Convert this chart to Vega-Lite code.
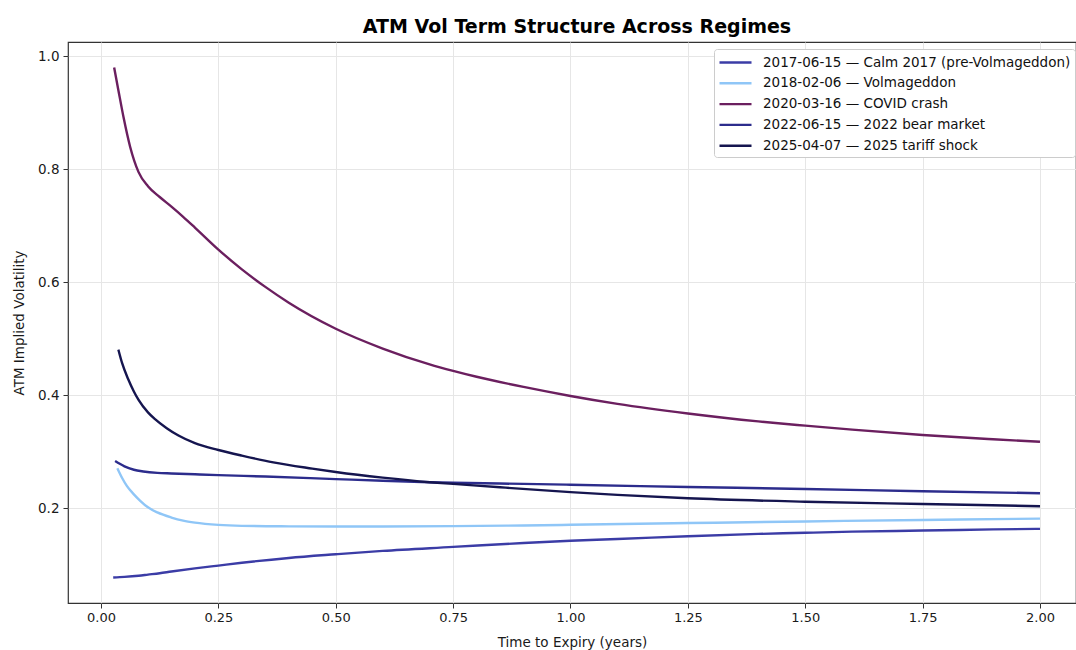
{
  "$schema": "https://vega.github.io/schema/vega-lite/v6.json",
  "width": 1008,
  "height": 561,
  "autosize": "none",
  "padding": {"left": 68, "top": 42, "right": 0, "bottom": 47},
  "background": "white",
  "config": {
    "font": "DejaVu Sans",
    "view": {"stroke": "#333333", "strokeWidth": 1.2},
    "axis": {
      "labelFont": "DejaVu Sans", "titleFont": "DejaVu Sans",
      "labelFontSize": 13.5, "titleFontSize": 13.5, "titleFontWeight": "normal",
      "labelColor": "#1a1a1a", "titleColor": "#1a1a1a",
      "tickColor": "#333333", "tickSize": 5, "tickWidth": 1,
      "domain": false,
      "gridColor": "#e6e6e6", "gridWidth": 1
    }
  },
  "title": {
    "text": "ATM Vol Term Structure Across Regimes",
    "font": "DejaVu Sans", "fontSize": 19, "fontWeight": "bold", "color": "#000000",
    "anchor": "middle", "offset": 5, "dx": 5
  },
  "data": {
    "values": [
      {"series": "2017-06-15 — Calm 2017 (pre-Volmageddon)", "t": 0.026, "v": 0.078},
      {"series": "2017-06-15 — Calm 2017 (pre-Volmageddon)", "t": 0.05, "v": 0.079},
      {"series": "2017-06-15 — Calm 2017 (pre-Volmageddon)", "t": 0.08, "v": 0.081},
      {"series": "2017-06-15 — Calm 2017 (pre-Volmageddon)", "t": 0.1, "v": 0.083},
      {"series": "2017-06-15 — Calm 2017 (pre-Volmageddon)", "t": 0.125, "v": 0.0855},
      {"series": "2017-06-15 — Calm 2017 (pre-Volmageddon)", "t": 0.15, "v": 0.0885},
      {"series": "2017-06-15 — Calm 2017 (pre-Volmageddon)", "t": 0.2, "v": 0.094},
      {"series": "2017-06-15 — Calm 2017 (pre-Volmageddon)", "t": 0.25, "v": 0.099},
      {"series": "2017-06-15 — Calm 2017 (pre-Volmageddon)", "t": 0.3, "v": 0.104},
      {"series": "2017-06-15 — Calm 2017 (pre-Volmageddon)", "t": 0.4, "v": 0.1125},
      {"series": "2017-06-15 — Calm 2017 (pre-Volmageddon)", "t": 0.5, "v": 0.119},
      {"series": "2017-06-15 — Calm 2017 (pre-Volmageddon)", "t": 0.6, "v": 0.125},
      {"series": "2017-06-15 — Calm 2017 (pre-Volmageddon)", "t": 0.75, "v": 0.132},
      {"series": "2017-06-15 — Calm 2017 (pre-Volmageddon)", "t": 0.9, "v": 0.139},
      {"series": "2017-06-15 — Calm 2017 (pre-Volmageddon)", "t": 1.0, "v": 0.143},
      {"series": "2017-06-15 — Calm 2017 (pre-Volmageddon)", "t": 1.1, "v": 0.146},
      {"series": "2017-06-15 — Calm 2017 (pre-Volmageddon)", "t": 1.25, "v": 0.151},
      {"series": "2017-06-15 — Calm 2017 (pre-Volmageddon)", "t": 1.4, "v": 0.155},
      {"series": "2017-06-15 — Calm 2017 (pre-Volmageddon)", "t": 1.5, "v": 0.157},
      {"series": "2017-06-15 — Calm 2017 (pre-Volmageddon)", "t": 1.6, "v": 0.159},
      {"series": "2017-06-15 — Calm 2017 (pre-Volmageddon)", "t": 1.75, "v": 0.161},
      {"series": "2017-06-15 — Calm 2017 (pre-Volmageddon)", "t": 1.9, "v": 0.163},
      {"series": "2017-06-15 — Calm 2017 (pre-Volmageddon)", "t": 2.0, "v": 0.164},

      {"series": "2018-02-06 — Volmageddon", "t": 0.035, "v": 0.271},
      {"series": "2018-02-06 — Volmageddon", "t": 0.045, "v": 0.254},
      {"series": "2018-02-06 — Volmageddon", "t": 0.055, "v": 0.240},
      {"series": "2018-02-06 — Volmageddon", "t": 0.07, "v": 0.225},
      {"series": "2018-02-06 — Volmageddon", "t": 0.083, "v": 0.214},
      {"series": "2018-02-06 — Volmageddon", "t": 0.1, "v": 0.202},
      {"series": "2018-02-06 — Volmageddon", "t": 0.12, "v": 0.193},
      {"series": "2018-02-06 — Volmageddon", "t": 0.15, "v": 0.184},
      {"series": "2018-02-06 — Volmageddon", "t": 0.175, "v": 0.1785},
      {"series": "2018-02-06 — Volmageddon", "t": 0.2, "v": 0.175},
      {"series": "2018-02-06 — Volmageddon", "t": 0.25, "v": 0.171},
      {"series": "2018-02-06 — Volmageddon", "t": 0.3, "v": 0.1693},
      {"series": "2018-02-06 — Volmageddon", "t": 0.4, "v": 0.1684},
      {"series": "2018-02-06 — Volmageddon", "t": 0.5, "v": 0.1681},
      {"series": "2018-02-06 — Volmageddon", "t": 0.6, "v": 0.1682},
      {"series": "2018-02-06 — Volmageddon", "t": 0.75, "v": 0.1688},
      {"series": "2018-02-06 — Volmageddon", "t": 0.9, "v": 0.1700},
      {"series": "2018-02-06 — Volmageddon", "t": 1.0, "v": 0.1711},
      {"series": "2018-02-06 — Volmageddon", "t": 1.25, "v": 0.1742},
      {"series": "2018-02-06 — Volmageddon", "t": 1.5, "v": 0.1771},
      {"series": "2018-02-06 — Volmageddon", "t": 1.75, "v": 0.1797},
      {"series": "2018-02-06 — Volmageddon", "t": 2.0, "v": 0.182},

      {"series": "2020-03-16 — COVID crash", "t": 0.028, "v": 0.980},
      {"series": "2020-03-16 — COVID crash", "t": 0.037, "v": 0.940},
      {"series": "2020-03-16 — COVID crash", "t": 0.048, "v": 0.892},
      {"series": "2020-03-16 — COVID crash", "t": 0.062, "v": 0.840},
      {"series": "2020-03-16 — COVID crash", "t": 0.08, "v": 0.795},
      {"series": "2020-03-16 — COVID crash", "t": 0.1, "v": 0.770},
      {"series": "2020-03-16 — COVID crash", "t": 0.125, "v": 0.751},
      {"series": "2020-03-16 — COVID crash", "t": 0.15, "v": 0.734},
      {"series": "2020-03-16 — COVID crash", "t": 0.175, "v": 0.716},
      {"series": "2020-03-16 — COVID crash", "t": 0.2, "v": 0.697},
      {"series": "2020-03-16 — COVID crash", "t": 0.25, "v": 0.658},
      {"series": "2020-03-16 — COVID crash", "t": 0.3, "v": 0.623},
      {"series": "2020-03-16 — COVID crash", "t": 0.35, "v": 0.592},
      {"series": "2020-03-16 — COVID crash", "t": 0.4, "v": 0.564},
      {"series": "2020-03-16 — COVID crash", "t": 0.5, "v": 0.518},
      {"series": "2020-03-16 — COVID crash", "t": 0.6, "v": 0.483},
      {"series": "2020-03-16 — COVID crash", "t": 0.7, "v": 0.455},
      {"series": "2020-03-16 — COVID crash", "t": 0.75, "v": 0.4435},
      {"series": "2020-03-16 — COVID crash", "t": 0.8, "v": 0.433},
      {"series": "2020-03-16 — COVID crash", "t": 0.9, "v": 0.415},
      {"series": "2020-03-16 — COVID crash", "t": 1.0, "v": 0.399},
      {"series": "2020-03-16 — COVID crash", "t": 1.1, "v": 0.385},
      {"series": "2020-03-16 — COVID crash", "t": 1.25, "v": 0.368},
      {"series": "2020-03-16 — COVID crash", "t": 1.4, "v": 0.354},
      {"series": "2020-03-16 — COVID crash", "t": 1.5, "v": 0.3465},
      {"series": "2020-03-16 — COVID crash", "t": 1.6, "v": 0.3395},
      {"series": "2020-03-16 — COVID crash", "t": 1.75, "v": 0.330},
      {"series": "2020-03-16 — COVID crash", "t": 1.9, "v": 0.3225},
      {"series": "2020-03-16 — COVID crash", "t": 2.0, "v": 0.318},

      {"series": "2022-06-15 — 2022 bear market", "t": 0.03, "v": 0.284},
      {"series": "2022-06-15 — 2022 bear market", "t": 0.04, "v": 0.279},
      {"series": "2022-06-15 — 2022 bear market", "t": 0.05, "v": 0.2745},
      {"series": "2022-06-15 — 2022 bear market", "t": 0.07, "v": 0.2685},
      {"series": "2022-06-15 — 2022 bear market", "t": 0.09, "v": 0.2655},
      {"series": "2022-06-15 — 2022 bear market", "t": 0.12, "v": 0.263},
      {"series": "2022-06-15 — 2022 bear market", "t": 0.15, "v": 0.262},
      {"series": "2022-06-15 — 2022 bear market", "t": 0.2, "v": 0.2605},
      {"series": "2022-06-15 — 2022 bear market", "t": 0.25, "v": 0.259},
      {"series": "2022-06-15 — 2022 bear market", "t": 0.35, "v": 0.2565},
      {"series": "2022-06-15 — 2022 bear market", "t": 0.5, "v": 0.252},
      {"series": "2022-06-15 — 2022 bear market", "t": 0.6, "v": 0.249},
      {"series": "2022-06-15 — 2022 bear market", "t": 0.7, "v": 0.2465},
      {"series": "2022-06-15 — 2022 bear market", "t": 0.75, "v": 0.2455},
      {"series": "2022-06-15 — 2022 bear market", "t": 0.9, "v": 0.2435},
      {"series": "2022-06-15 — 2022 bear market", "t": 1.0, "v": 0.242},
      {"series": "2022-06-15 — 2022 bear market", "t": 1.25, "v": 0.238},
      {"series": "2022-06-15 — 2022 bear market", "t": 1.5, "v": 0.2345},
      {"series": "2022-06-15 — 2022 bear market", "t": 1.75, "v": 0.2305},
      {"series": "2022-06-15 — 2022 bear market", "t": 2.0, "v": 0.227},

      {"series": "2025-04-07 — 2025 tariff shock", "t": 0.037, "v": 0.481},
      {"series": "2025-04-07 — 2025 tariff shock", "t": 0.045, "v": 0.457},
      {"series": "2025-04-07 — 2025 tariff shock", "t": 0.058, "v": 0.4285},
      {"series": "2025-04-07 — 2025 tariff shock", "t": 0.07, "v": 0.407},
      {"series": "2025-04-07 — 2025 tariff shock", "t": 0.08, "v": 0.392},
      {"series": "2025-04-07 — 2025 tariff shock", "t": 0.1, "v": 0.370},
      {"series": "2025-04-07 — 2025 tariff shock", "t": 0.115, "v": 0.358},
      {"series": "2025-04-07 — 2025 tariff shock", "t": 0.14, "v": 0.342},
      {"series": "2025-04-07 — 2025 tariff shock", "t": 0.165, "v": 0.329},
      {"series": "2025-04-07 — 2025 tariff shock", "t": 0.2, "v": 0.3155},
      {"series": "2025-04-07 — 2025 tariff shock", "t": 0.25, "v": 0.3035},
      {"series": "2025-04-07 — 2025 tariff shock", "t": 0.3, "v": 0.2935},
      {"series": "2025-04-07 — 2025 tariff shock", "t": 0.367, "v": 0.2815},
      {"series": "2025-04-07 — 2025 tariff shock", "t": 0.45, "v": 0.2705},
      {"series": "2025-04-07 — 2025 tariff shock", "t": 0.5, "v": 0.2645},
      {"series": "2025-04-07 — 2025 tariff shock", "t": 0.6, "v": 0.2545},
      {"series": "2025-04-07 — 2025 tariff shock", "t": 0.7, "v": 0.2465},
      {"series": "2025-04-07 — 2025 tariff shock", "t": 0.75, "v": 0.2435},
      {"series": "2025-04-07 — 2025 tariff shock", "t": 0.85, "v": 0.2375},
      {"series": "2025-04-07 — 2025 tariff shock", "t": 1.0, "v": 0.229},
      {"series": "2025-04-07 — 2025 tariff shock", "t": 1.1, "v": 0.224},
      {"series": "2025-04-07 — 2025 tariff shock", "t": 1.25, "v": 0.218},
      {"series": "2025-04-07 — 2025 tariff shock", "t": 1.5, "v": 0.212},
      {"series": "2025-04-07 — 2025 tariff shock", "t": 1.75, "v": 0.208},
      {"series": "2025-04-07 — 2025 tariff shock", "t": 2.0, "v": 0.204}
    ]
  },
  "mark": {"type": "line", "strokeWidth": 2.4, "interpolate": "monotone", "clip": true},
  "encoding": {
    "x": {
      "field": "t", "type": "quantitative",
      "scale": {"domain": [-0.0703, 2.0767], "nice": false, "zero": false},
      "axis": {
        "title": "Time to Expiry (years)",
        "values": [0, 0.25, 0.5, 0.75, 1.0, 1.25, 1.5, 1.75, 2.0],
        "format": ".2f", "labelPadding": 3, "titlePadding": 11, "labelFontSize": 13
      }
    },
    "y": {
      "field": "v", "type": "quantitative",
      "scale": {"domain": [0.0328, 1.0252], "nice": false, "zero": false},
      "axis": {
        "title": "ATM Implied Volatility",
        "values": [0.2, 0.4, 0.6, 0.8, 1.0],
        "format": ".1f", "labelPadding": 4, "titlePadding": 11
      }
    },
    "color": {
      "field": "series", "type": "nominal",
      "scale": {
        "domain": [
          "2017-06-15 — Calm 2017 (pre-Volmageddon)",
          "2018-02-06 — Volmageddon",
          "2020-03-16 — COVID crash",
          "2022-06-15 — 2022 bear market",
          "2025-04-07 — 2025 tariff shock"
        ],
        "range": ["#3b3ca6", "#8fc6f7", "#6b1f5f", "#2c2c8c", "#15154f"]
      },
      "legend": {
        "title": null,
        "orient": "none", "legendX": 646, "legendY": 7,
        "symbolType": "M-2,0H2", "symbolSize": 256, "symbolStrokeWidth": 2.4,
        "symbolOffset": 8,
        "labelFont": "DejaVu Sans", "labelFontSize": 13.5, "labelColor": "#111111",
        "labelOffset": 18, "labelLimit": 400, "rowPadding": 4.8,
        "padding": 4, "fillColor": "white", "strokeColor": "#cccccc", "cornerRadius": 3
      }
    }
  }
}
